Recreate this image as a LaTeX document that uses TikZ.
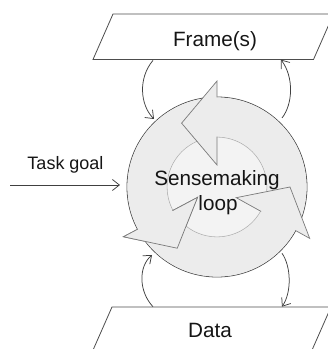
\documentclass[tikz,border=0pt]{standalone}
\usepackage{fontspec}
\setmainfont{Liberation Sans}
\usetikzlibrary{arrows.meta}
\definecolor{circline}{HTML}{4A4A4A}
\definecolor{circfill}{HTML}{E9E9E9}
\definecolor{innerfill}{HTML}{F3F3F3}
\definecolor{innerline}{HTML}{B3B3B3}
\definecolor{arrowfill}{HTML}{ECECEC}
\definecolor{arrowline}{HTML}{7A7A7A}
\definecolor{connline}{HTML}{404040}
\definecolor{boxline}{HTML}{4D4D4D}
\definecolor{txt}{HTML}{151515}
\newcommand\cycarrow[2]{%
  \fill[arrowfill] (#2:89.6) arc[start angle=#2, end angle=#1, radius=89.6]
    -- (#1:106) -- ({#1+29}:73) -- (#1:22) -- (#1:50.4)
    arc[start angle=#1, end angle=#2, radius=50.4] -- cycle;
  \draw[cycline] (#1:89.6) -- (#1:106) -- ({#1+29}:73) -- (#1:22) -- (#1:50.4);
}
\newcommand\cychead[1]{%
  \fill[arrowfill] (#1:106) -- ({#1+29}:73) -- (#1:22) -- cycle;
  \draw[cycline] (#1:89.6) -- (#1:106) -- ({#1+29}:73) -- (#1:22) -- (#1:50.4);
}
\begin{document}
\begin{tikzpicture}[x=1bp,y=1bp,
  cycline/.style={draw=arrowline, line width=0.7bp, line join=miter},
  conn/.style={draw=connline, line width=0.75bp, -{Straight Barb[length=7bp,width=11bp]}},
  para/.style={draw=boxline, line width=0.8bp},
  lbl/.style={text=txt, font=\fontsize{20.7bp}{25bp}\selectfont, inner sep=0, anchor=base},
  smalllbl/.style={text=txt, font=\fontsize{18bp}{22bp}\selectfont, inner sep=0, anchor=base}]
\useasboundingbox (0,0) rectangle (328,349);
\clip (0,0) rectangle (328,349);
% parallelograms
\draw[para] (93,289.5) -- (113,335) -- (333.5,335) -- (313.5,289.5) -- cycle;
\draw[para] (91.3,-5) -- (112,42) -- (331,42) -- (310.3,-5) -- cycle;
% big circle and inner circle
\node[circle, draw=circline, fill=circfill, line width=0.8bp, minimum size=180bp, inner sep=0] (loop) at (217,162) {};
\node[circle, draw=innerline, fill=innerfill, line width=0.8bp, minimum size=100bp, inner sep=0] (core) at (217,162) {};
% cycle arrows
\begin{scope}[shift={(217,162)}]
  \cycarrow{208}{94}
  \cycarrow{90}{-25}
  \cycarrow{331}{212}
  \cychead{208}
\end{scope}
% labels
\node[lbl] (frame) at (215,303) {Frame(s)};
\node[lbl] (data) at (210,12) {Data};
\node[smalllbl] (task) at (65.5,180) {Task goal};
\node[lbl] (sense) at (217,164) {Sensemaking};
\node[lbl] (loopword) at (218,139) {loop};
% connectors
\coordinate (f1) at (153,288.6);
\coordinate (c1) at (154,230);
\coordinate (c2) at (282,231);
\coordinate (f2) at (281,289.3);
\coordinate (d1) at (153,42.3);
\coordinate (c3) at (152,94);
\coordinate (c4) at (282,95.7);
\coordinate (d2) at (282,42.3);
\coordinate (t0) at (10,164);
\coordinate (t1) at (120,164);
\draw[conn] (f1) .. controls (138,271) and (140,244) .. (c1);
\draw[conn] (c2) .. controls (293,245) and (294,272) .. (f2);
\draw[conn] (d1) .. controls (139,57) and (138,82) .. (c3);
\draw[conn] (c4) .. controls (291,83) and (292,57) .. (d2);
\draw[conn] (t0) -- (t1);
\end{tikzpicture}
\end{document}
